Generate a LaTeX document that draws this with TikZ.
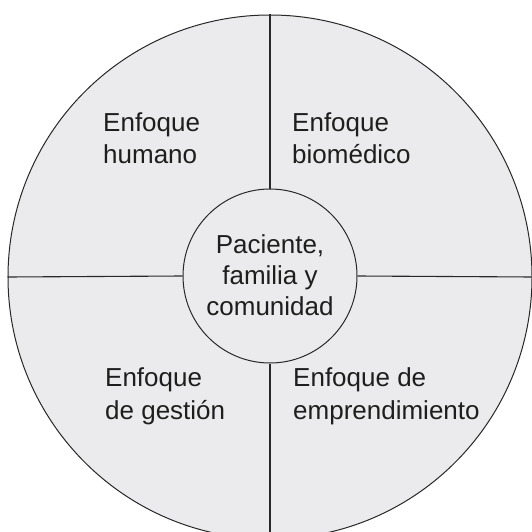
\documentclass[tikz,border=0pt]{standalone}
\usepackage{fontspec}
\setmainfont{Liberation Sans}
\definecolor{ringfill}{RGB}{235,235,237}
\definecolor{ringline}{RGB}{40,40,40}
\definecolor{inktext}{RGB}{30,30,30}
\begin{document}
\begin{tikzpicture}[x=1pt,y=-1pt,
  ring/.style={circle,draw=ringline,line width=1pt,fill=ringfill,inner sep=0pt},
  divider/.style={draw=ringline,line width=1.1pt},
  label/.style={inner sep=0pt,text=inktext,align=left,anchor=base west,
    font=\fontsize{26}{32.5}\selectfont},
  centerlabel/.style={inner sep=0pt,text=inktext,align=center,anchor=base,
    font=\fontsize{26}{31}\selectfont}]
\useasboundingbox (0,0) rectangle (532,532);
\clip (0,0) rectangle (532,532);
\node[ring,minimum size=524pt] (outer) at (270,277) {};
\node[ring,minimum size=174pt] (core) at (270,276) {};
\draw[divider] (outer.north) -- (core.north);
\draw[divider] (core.south) -- (outer.south);
\draw[divider] (outer.west) -- (core.west);
\draw[divider] (core.east) -- (outer.east);
\node[label] (hum) at (103,163.5) {Enfoque\\humano};
\node[label] (bio) at (292,163.5) {Enfoque\\biomédico};
\node[label] (ges) at (105,419) {Enfoque\\de gestión};
\node[label] (emp) at (293,419) {Enfoque de\\emprendimiento};
\node[centerlabel] (pac) at (270,315) {Paciente,\\familia y\\comunidad};
\end{tikzpicture}
\end{document}
